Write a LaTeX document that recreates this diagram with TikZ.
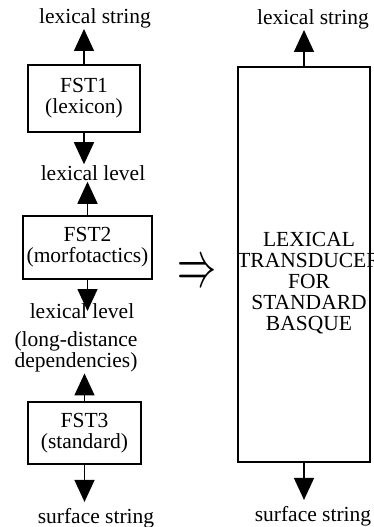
\documentclass[tikz,border=0pt]{standalone}
\usepackage{fontspec}
\setmainfont{Liberation Serif}
\usetikzlibrary{arrows.meta}
\begin{document}
\begin{tikzpicture}[x=1pt,y=-1pt,
    every node/.style={font=\fontsize{21.5}{21}\selectfont, align=center, inner sep=1pt},
    fst/.style={draw, line width=1.5pt, inner sep=0pt}]
  \useasboundingbox (0,0) rectangle (374,527);
  \draw
    (95,18) node (ls1){lexical string}
    (84,98.5) node[fst, minimum width=112pt, minimum height=67pt] (fst1){FST1\\(lexicon)}
    (93,173) node (ll1){lexical level}
    (87.5,247.5) node[fst, minimum width=129pt, minimum height=63pt] (fst2){FST2\\(morfotactics)}
    (82,311) node (ll2){lexical level}
    (76,352) node (ldd){(long-distance\\dependencies)}
    (84.5,433) node[fst, minimum width=113pt, minimum height=62pt] (fst3){FST3\\(standard)}
    (96,518) node (ss1){surface string}
    (197,274) node (impl){\resizebox{39pt}{24pt}{$\Rightarrow$}}
    (313,19) node (ls2){lexical string}
    (304,264.5) node[fst, minimum width=132pt, minimum height=395pt] (big){}
    (309,283) node (trans){LEXICAL\\TRANSDUCER\\FOR\\STANDARD\\BASQUE}
    (313,516) node (ss2){surface string};
  \begin{scope}[line width=1.5pt, -{Triangle[width=20pt,length=22pt]}]
    \draw (fst1.north) to (fst1.north |- ls1.south);
    \draw (fst1.south) to (fst1.south |- ll1.north);
    \draw (fst2.north) to (fst2.north |- ll1.south);
    \draw (fst2.south) to (fst2.south |- ll2.center);
    \draw (fst3.north) to (fst3.north |- ldd.south);
    \draw[shorten >=5pt] (fst3.south) to (fst3.south |- ss1.north);
    \draw (big.north) to (big.north |- ls2.south);
    \draw[shorten >=5pt] (big.south) to (big.south |- ss2.north);
  \end{scope}
\end{tikzpicture}
\end{document}
